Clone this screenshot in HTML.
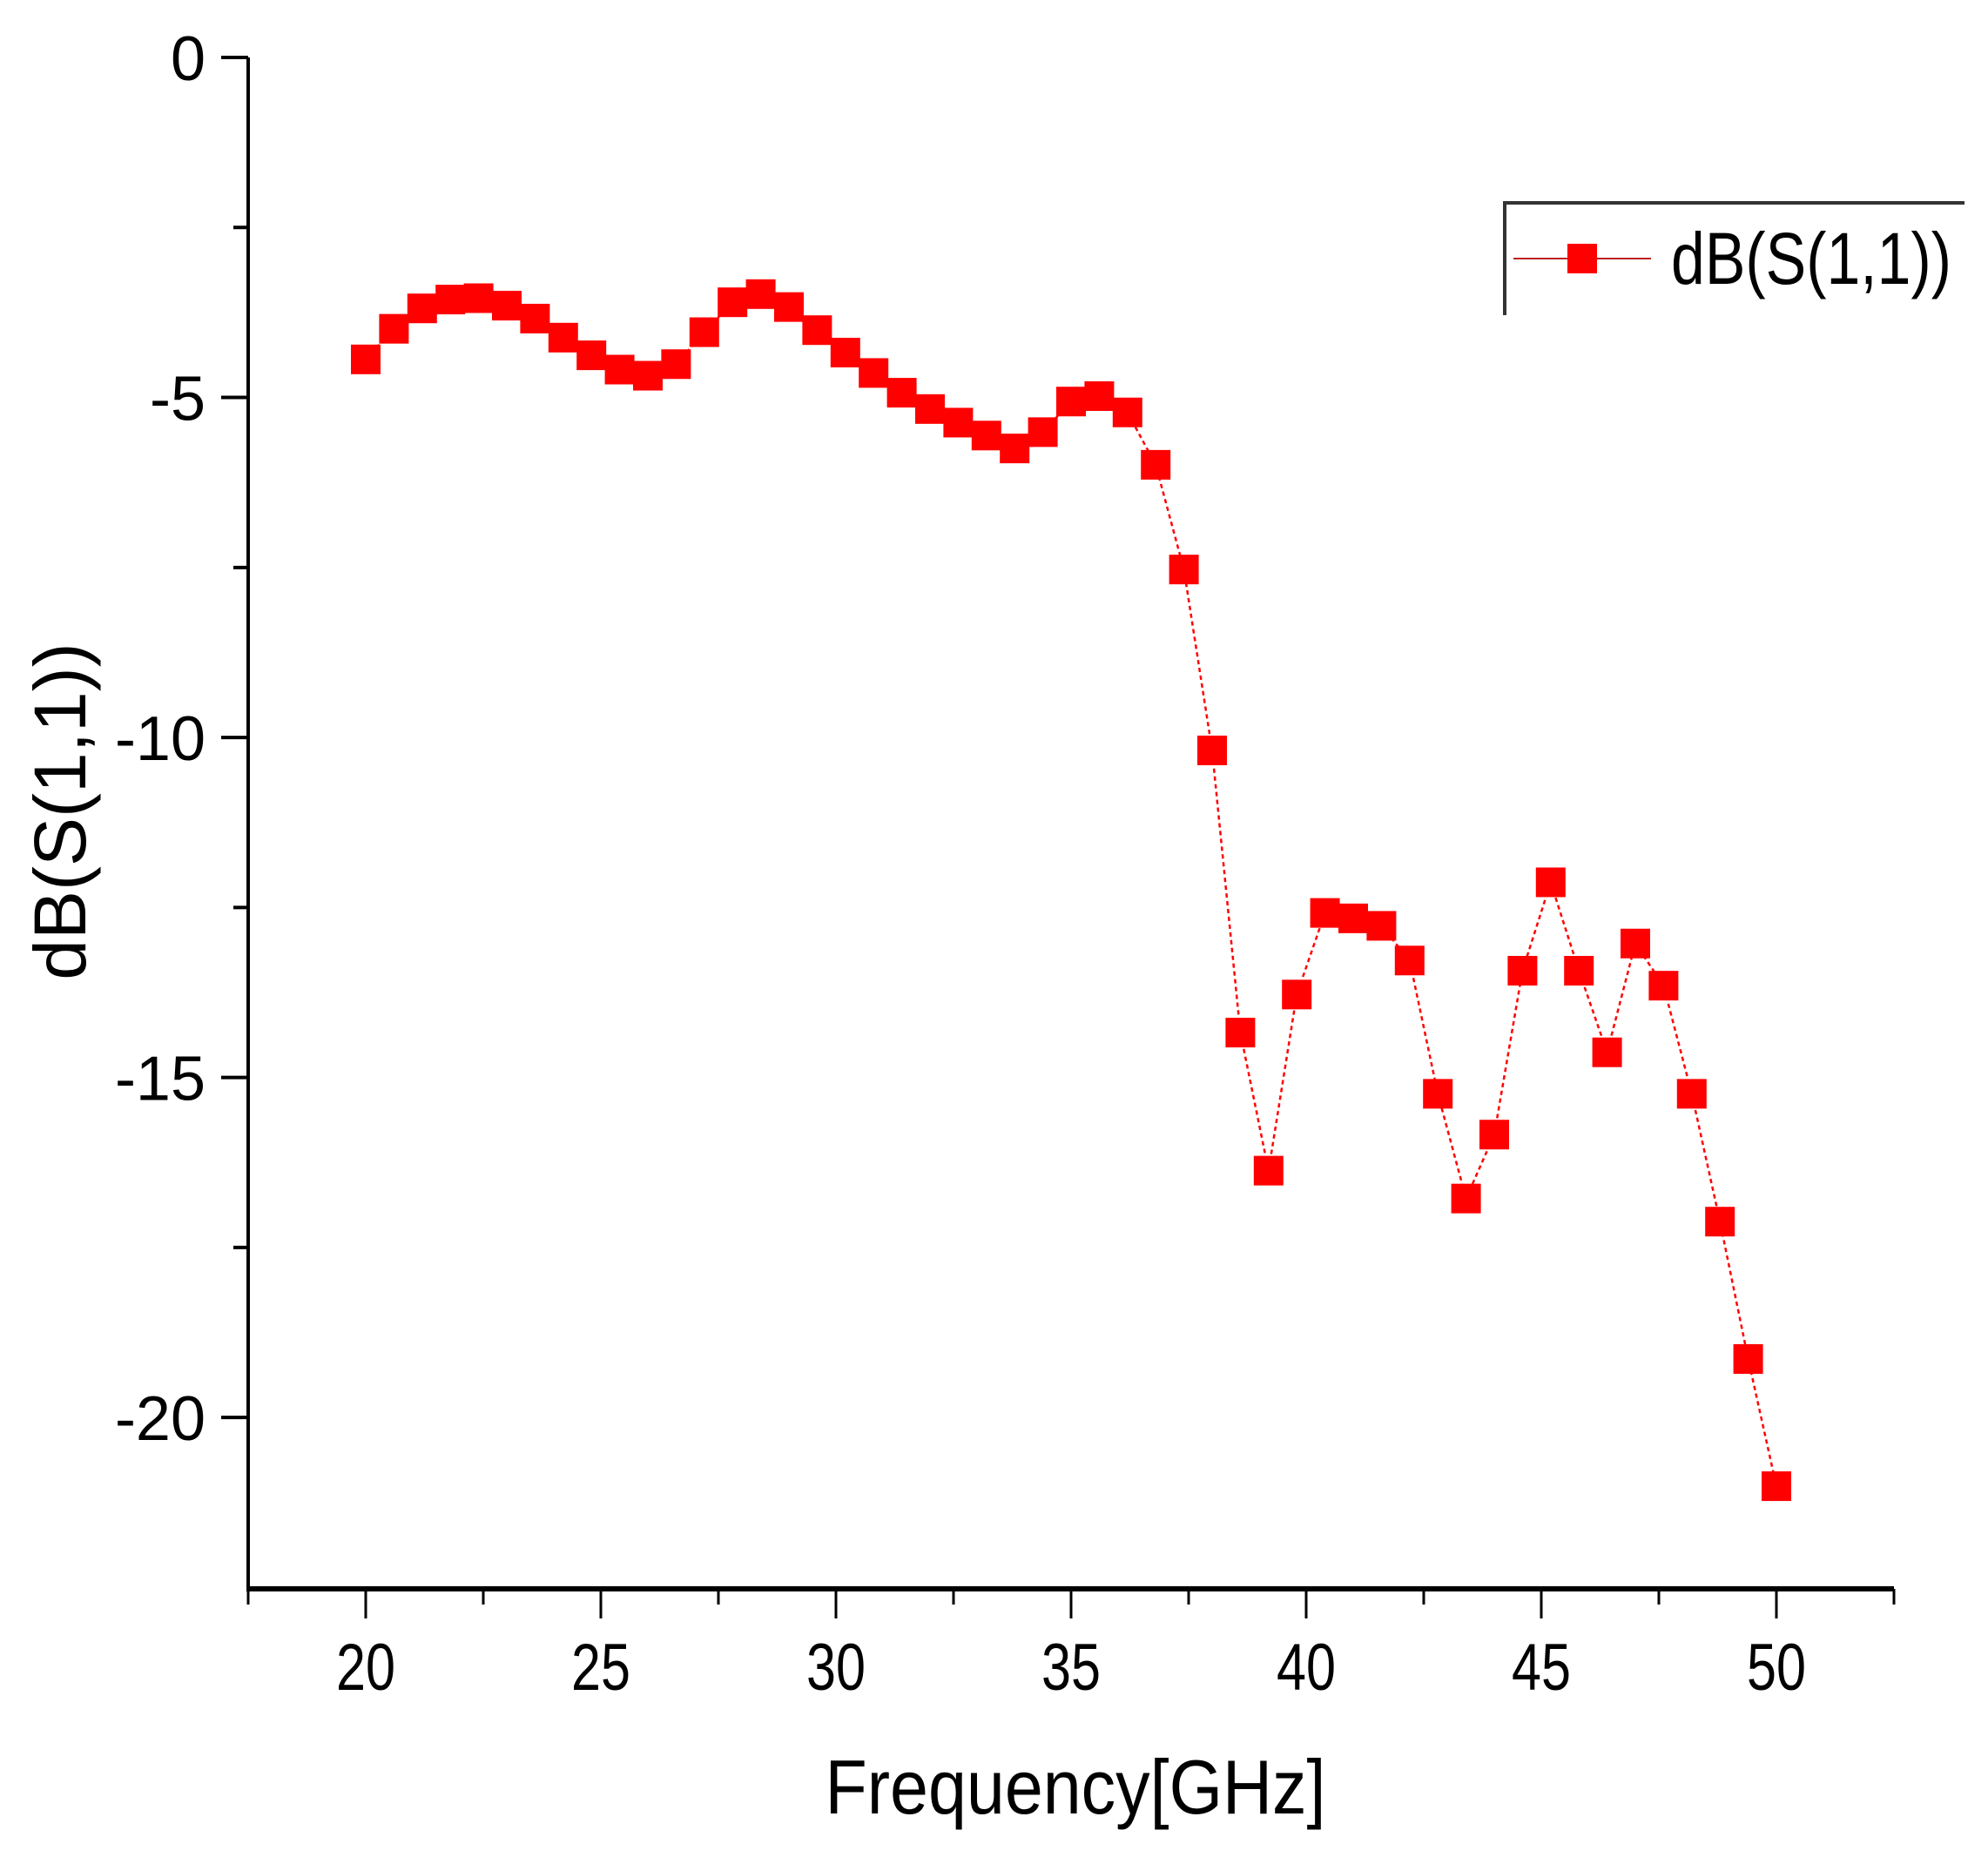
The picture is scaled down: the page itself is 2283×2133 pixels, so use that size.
<!DOCTYPE html>
<html><head><meta charset="utf-8"><style>html,body{margin:0;padding:0;background:#fff}svg{display:block}</style></head>
<body>
<svg id="chart" width="2283" height="2133" xmlns="http://www.w3.org/2000/svg" font-family="Liberation Sans, sans-serif">
<g id="axes"></g>
<g id="series"></g>
<g>
<path d="M1728,362 L1728,233 L2256,233" fill="none" stroke="#333" stroke-width="4"/>
<line x1="1738" y1="297" x2="1896" y2="297" stroke="#c02020" stroke-width="2"/>
<rect x="1800" y="280" width="34" height="34" fill="#f00"/>
<text x="1919" y="326" font-size="84" textLength="322" lengthAdjust="spacingAndGlyphs">dB(S(1,1))</text>
</g>
<text x="1235" y="2083" font-size="88" text-anchor="middle" textLength="575" lengthAdjust="spacingAndGlyphs">Frequency[GHz]</text>
<text transform="translate(98,932) rotate(-90)" font-size="84" text-anchor="middle">dB(S(1,1))</text>
</svg>
<script>
const freqs = [20,20.6,21.2,21.8,22.4,23,23.6,24.2,24.8,25.4,26,26.6,27.2,27.8,28.4,29,29.6,30.2,30.8,31.4,32,32.6,33.2,33.8,34.4,35,35.6,36.2,36.8,37.4,38,38.6,39.2,39.8,40.4,41,41.6,42.2,42.8,43.4,44,44.6,45.2,45.8,46.4,47,47.6,48.2,48.8,49.4,50];
const s11 = [-4.44,-3.99,-3.69,-3.56,-3.54,-3.65,-3.84,-4.12,-4.38,-4.59,-4.68,-4.51,-4.04,-3.60,-3.48,-3.67,-4.01,-4.34,-4.64,-4.93,-5.17,-5.37,-5.56,-5.75,-5.51,-5.06,-4.98,-5.22,-5.99,-7.53,-10.19,-14.34,-16.37,-13.78,-12.58,-12.66,-12.77,-13.28,-15.24,-16.78,-15.84,-13.43,-12.13,-13.43,-14.63,-13.03,-13.65,-15.24,-17.12,-19.14,-21.01];
const xTicks = [20,25,30,35,40,45,50];
const xMinor = [17.5,22.5,27.5,32.5,37.5,42.5,47.5,52.5];
const yTicks = [0,-5,-10,-15,-20];
const yMinor = [-2.5,-7.5,-12.5,-17.5];
const X0=285,X1=2175,XMIN=17.5,XMAX=52.5,Y0=66,YBOT=1825,YMAX=0,YMIN=-22.52;
const sx=v=>X0+(v-XMIN)/(XMAX-XMIN)*(X1-X0);
const sy=v=>Y0+(YMAX-v)/(YMAX-YMIN)*(YBOT-Y0);
const NS='http://www.w3.org/2000/svg';
function mk(tag,attrs,parent){const e=document.createElementNS(NS,tag);for(const k in attrs)e.setAttribute(k,attrs[k]);parent.appendChild(e);return e;}
const ax=document.getElementById('axes');
let e;
e=mk('line',{x1:X0,y1:sy(0),x2:X0,y2:YBOT,stroke:'#000','stroke-width':4},ax);


e=mk('line',{x1:X0-2,y1:YBOT,x2:X1,y2:YBOT,stroke:'#000','stroke-width':6},ax);


xTicks.forEach(t=>{
 e=mk('line',{x1:sx(t),y1:YBOT,x2:sx(t),y2:YBOT+34,stroke:'#000','stroke-width':3},ax);
 
 
 e=mk('text',{x:sx(t),y:YBOT+116,'font-size':76,'text-anchor':'middle',textLength:68,lengthAdjust:'spacingAndGlyphs'},ax);
 e.textContent=t;
 
 
});
xMinor.forEach(t=>{
 e=mk('line',{x1:sx(t),y1:YBOT,x2:sx(t),y2:YBOT+18,stroke:'#000','stroke-width':3},ax);
 
 
});
yTicks.forEach(t=>{
 e=mk('line',{x1:X0-31,y1:sy(t),x2:X0,y2:sy(t),stroke:'#000','stroke-width':4},ax);
 
 
 e=mk('text',{x:236,y:sy(t)+26,'font-size':72,'text-anchor':'end'},ax);
 e.textContent=t===0?'0':String(t);
 
 
});
yMinor.forEach(t=>{
 e=mk('line',{x1:X0-17,y1:sy(t),x2:X0,y2:sy(t),stroke:'#000','stroke-width':4},ax);
 
 
});
const sg=document.getElementById('series');
const pts=freqs.map((f,i)=>sx(f)+','+sy(s11[i])).join(' ');
e=mk('polyline',{points:pts,fill:'none',stroke:'#f00','stroke-width':2.5,'stroke-dasharray':'5 4'},sg);


freqs.forEach((f,i)=>{
 e=mk('rect',{x:sx(f)-17,y:sy(s11[i])-17,width:34,height:34,fill:'#f00'},sg);
 
 
});
</script>
</body></html>
